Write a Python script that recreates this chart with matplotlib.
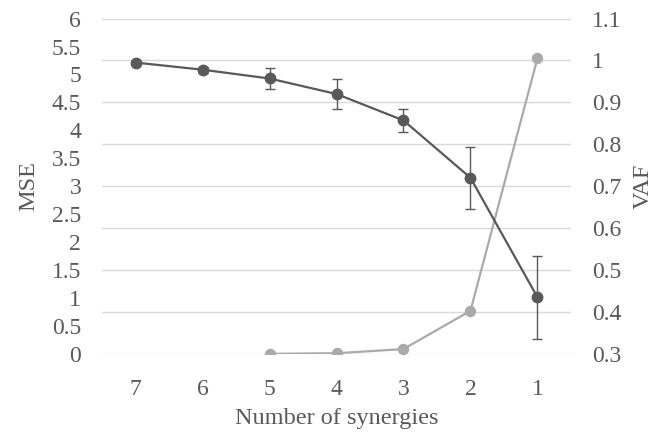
import numpy as np
import matplotlib
matplotlib.use("Agg")
import matplotlib.pyplot as plt

plt.rcParams['font.family'] = ['Liberation Serif', 'DejaVu Serif']

# data
synergies = ['7', '6', '5', '4', '3', '2', '1']
vaf = [0.995, 0.978, 0.957, 0.920, 0.857, 0.720, 0.435]
vaf_err = [0.0, 0.007, 0.026, 0.036, 0.028, 0.074, 0.099]
mse_labels = ['5', '4', '3', '2', '1']
mse = [0.0, 0.01, 0.085, 0.77, 5.29]

dark = '#595959'
light = '#aaaaaa'
txt = '#595959'

fig, ax = plt.subplots(figsize=(6.67, 4.32), dpi=100)
fig.subplots_adjust(left=0.153, right=0.856, top=0.957, bottom=0.181)
ax2 = ax.twinx()

x = np.arange(len(synergies))
xm = [synergies.index(s) for s in mse_labels]

ax.plot(xm, mse, color=light, lw=1.6, marker='o', ms=7.2, zorder=3)
ax2.errorbar(x, vaf, yerr=vaf_err, color=dark, lw=1.6, marker='o', ms=7.5,
             ecolor=dark, elinewidth=1.0, capsize=3.5, capthick=1.0, zorder=3)

ax.set_xlim(-0.5, len(synergies) - 0.5)
ax.set_xticks(x)
ax.set_xticklabels(synergies)
ax.set_ylim(0, 6)
ax.set_yticks(np.arange(0, 6.01, 0.5))
ax.set_yticklabels(['0', '0.5', '1', '1.5', '2', '2.5', '3', '3.5', '4', '4.5', '5', '5.5', '6'])
# gridlines follow the VAF axis
ax.yaxis.remove_overlapping_locs = False
ax.set_yticks(np.arange(0, 6.01, 0.75), minor=True)
ax.grid(True, which='minor', axis='y', color='#d9d9d9', lw=1.0, zorder=0)
ax.tick_params(which='minor', length=0)

ax2.set_ylim(0.3, 1.1)
ax2.set_yticks(np.arange(0.3, 1.101, 0.1))
ax2.set_yticklabels(['0.3', '0.4', '0.5', '0.6', '0.7', '0.8', '0.9', '1', '1.1'])

for a in (ax, ax2):
    for s in a.spines.values():
        s.set_visible(False)
    a.tick_params(which='major', length=0, labelsize=17, labelcolor=txt)

ax.tick_params(axis='y', pad=15)
ax2.tick_params(axis='y', pad=15)
ax.tick_params(axis='x', pad=18)
ax.set_xlabel('Number of synergies', fontsize=17.5, color=txt, labelpad=6)
ax.set_ylabel('MSE', fontsize=17.5, color=txt, labelpad=9)
ax2.set_ylabel('VAF', fontsize=17.5, color=txt, labelpad=8)

fig.savefig('out.png', dpi=100)
